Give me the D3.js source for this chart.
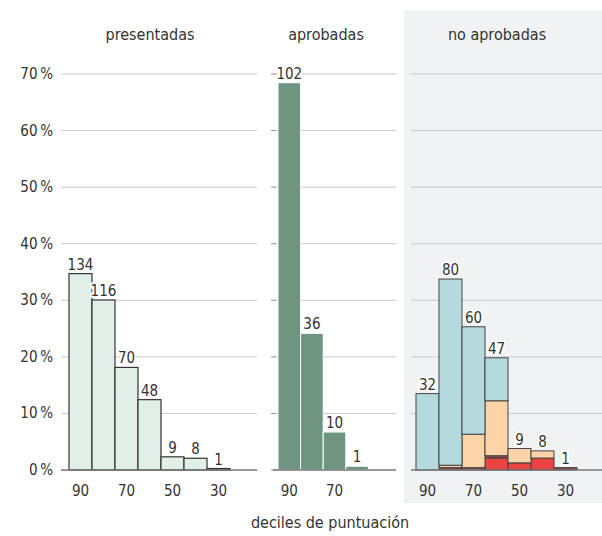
<!DOCTYPE html>
<html>
<head>
<meta charset="utf-8">
<script src="https://cdn.jsdelivr.net/npm/d3@7"></script>
<style>
  body { margin: 0; background: #fff; }
  text { font-family: "Liberation Sans Narrow", "DejaVu Sans Condensed", sans-serif; fill: #333; }
</style>
</head>
<body>
<svg id="chart" width="602" height="536"></svg>
<script>
// deciles (bins) and counts
const deciles = ['90', '80', '70', '60', '50', '40', '30', '20'];
const tickLabels = ['90', '70', '50', '30'];
const midTickLabels = ['90', '70'];
const yTicks = [0, 0.1, 0.2, 0.3, 0.4, 0.5, 0.6, 0.7];

const presentadas = [134, 116, 70, 48, 9, 8, 1, 0];
const aprobadas = [102, 36, 10, 1, 0];

// no aprobadas, split by segment (bottom to top)
const noRed = [0, 0, 0, 5, 3, 5, 0, 0];
const noBrown = [0, 1, 1, 1, 0, 0, 1, 0];
const noPeach = [0, 1, 14, 23, 6, 3, 0, 0];
const noBlue = [32, 78, 45, 18, 0, 0, 0, 0];
const noTotals = [32, 80, 60, 47, 9, 8, 1, 0];

const segKeys = ['red', 'brown', 'peach', 'blue'];
const segColors = { red: '#ec4242', brown: '#8e4848', peach: '#fdd3a8', blue: '#b5dade' };

const svg = d3.select('#chart');

var y = d3.scaleLinear().domain([0, 0.7]).range([470, 74]);

// background for the third panel
svg.append('rect')
  .attr('x', 404).attr('y', 10)
  .attr('width', 198).attr('height', 493)
  .attr('fill', '#f1f2f4');

var panels = [
  { title: 'presentadas', x0: 61, x1: 257, bars: [69, 253], bins: deciles, ticks: tickLabels, tcx: 150 },
  { title: 'aprobadas', x0: 273, x1: 396, bars: [278, 391], bins: deciles.slice(0, 5), ticks: midTickLabels, tcx: 326 },
  { title: 'no aprobadas', x0: 411, x1: 602, bars: [416, 600], bins: deciles, ticks: tickLabels, tcx: 497 },
];

panels.forEach(function(p) {
  p.x = d3.scaleBand().domain(p.bins).range(p.bars).padding(0);
  var g = svg.append('g');

  // gridlines
  g.selectAll('line.grid')
    .data(yTicks.slice(1))
    .enter().append('line')
    .attr('class', 'grid')
    .attr('x1', p.x0).attr('x2', p.x1)
    .attr('y1', d => y(d)).attr('y2', d => y(d))
    .attr('stroke', '#c8c8c8').attr('stroke-width', 1);

  // title
  g.append('text')
    .attr('x', p.tcx).attr('y', 40)
    .attr('text-anchor', 'middle')
    .style('font-size', '16px')
    .text(p.title);

  // x tick labels
  g.selectAll('text.xt')
    .data(p.ticks)
    .enter().append('text')
    .attr('class', 'xt')
    .attr('x', d => p.x(d) + p.x.bandwidth() / 2)
    .attr('y', 496)
    .attr('text-anchor', 'middle')
    .style('font-size', '15px')
    .text(d => d);

  p.g = g;
});

// y labels on the left
svg.selectAll('text.yl')
  .data(yTicks)
  .enter().append('text')
  .attr('class', 'yl')
  .attr('x', 53)
  .attr('y', d => y(d) + 5)
  .attr('text-anchor', 'end')
  .style('font-size', '15px')
  .text(d => Math.round(d * 100) + '\u2009%');

function labels(g, x, counts, total) {
  g.selectAll('text.vl')
    .data(counts.map((c, i) => ({ c: c, bin: x.domain()[i] })).filter(d => d.c > 0))
    .enter().append('text')
    .attr('class', 'vl')
    .attr('x', d => x(d.bin) + x.bandwidth() / 2)
    .attr('y', d => y(d.c / total) - 4)
    .attr('text-anchor', 'middle')
    .style('font-size', '15px')
    .style('paint-order', 'stroke')
    .style('stroke', '#fff')
    .style('stroke-width', 4)
    .text(d => d.c);
}

// presentadas
var pTotal = d3.sum(presentadas);
var p0 = panels[0];
p0.g.selectAll('rect.bar')
  .data(presentadas.map((c, i) => ({ c: c, bin: deciles[i] })).filter(d => d.c > 0))
  .enter().append('rect')
  .attr('x', d => p0.x(d.bin))
  .attr('width', p0.x.bandwidth())
  .attr('y', d => y(d.c / pTotal))
  .attr('height', d => y(0) - y(d.c / pTotal))
  .attr('fill', '#e1efe8')
  .attr('stroke', '#333').attr('stroke-width', 1.2);
labels(p0.g, p0.x, presentadas, pTotal);

// aprobadas
var aTotal = d3.sum(aprobadas);
var p1 = panels[1];
p1.g.selectAll('rect.bar')
  .data(aprobadas.map((c, i) => ({ c: c, bin: p1.bins[i] })).filter(d => d.c > 0))
  .enter().append('rect')
  .attr('x', d => p1.x(d.bin))
  .attr('width', p1.x.bandwidth())
  .attr('y', d => y(d.c / aTotal))
  .attr('height', d => y(0) - y(d.c / aTotal))
  .attr('fill', '#6e957f')
  .attr('stroke', '#fff').attr('stroke-width', 1);
labels(p1.g, p1.x, aprobadas, aTotal);
// small tick stubs at the left of the middle panel
p1.g.selectAll('line.stub')
  .data(yTicks)
  .enter().append('line')
  .attr('x1', 271).attr('x2', 276)
  .attr('y1', d => y(d)).attr('y2', d => y(d))
  .attr('stroke', '#999');

// no aprobadas (stacked)
var nTotal = d3.sum(noTotals);
var p2 = panels[2];
var rows = deciles.map((d, i) => ({
  bin: d, red: noRed[i], brown: noBrown[i], peach: noPeach[i], blue: noBlue[i],
}));
var stack = d3.stack().keys(segKeys)(rows);
stack.forEach(function(layer) {
  p2.g.selectAll('rect.s-' + layer.key)
    .data(layer.filter(d => d[1] - d[0] > 0))
    .enter().append('rect')
    .attr('x', d => p2.x(d.data.bin))
    .attr('width', p2.x.bandwidth())
    .attr('y', d => y(d[1] / nTotal))
    .attr('height', d => y(d[0] / nTotal) - y(d[1] / nTotal))
    .attr('fill', segColors[layer.key])
    .attr('stroke', '#444').attr('stroke-width', 1);
});
labels(p2.g, p2.x, noTotals, nTotal);

// baselines
panels.forEach(function(p) {
  p.g.append('line')
    .attr('x1', p.x0).attr('x2', p.x1)
    .attr('y1', y(0)).attr('y2', y(0))
    .attr('stroke', '#777').attr('stroke-width', 1.3);
});

// axis title
svg.append('text')
  .attr('x', 330).attr('y', 528)
  .attr('text-anchor', 'middle')
  .style('font-size', '16px')
  .text('deciles de puntuación');
</script>
</body>
</html>
